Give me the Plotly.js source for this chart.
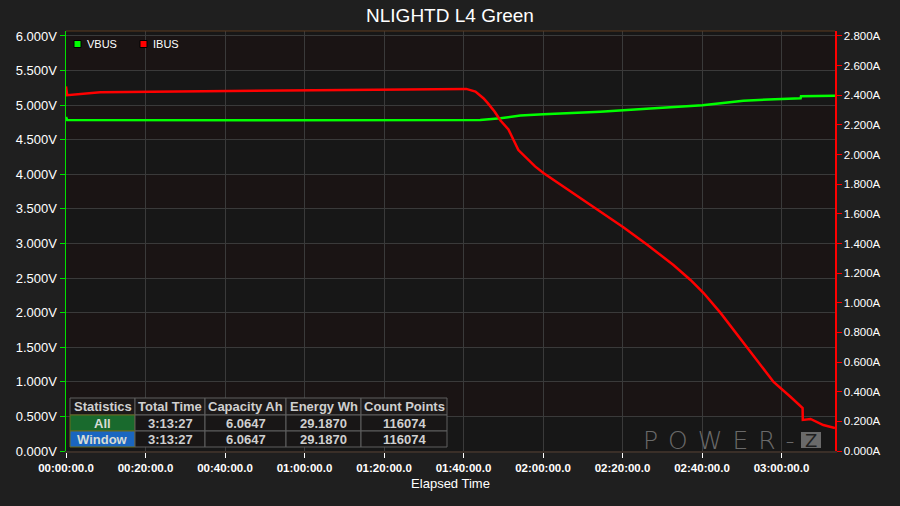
<!DOCTYPE html>
<html>
<head>
<meta charset="utf-8">
<script src="https://cdn.plot.ly/plotly-3.0.1.min.js"></script>
<style>
  html, body { margin: 0; padding: 0; background: #1f1f1f; }
  #chart { width: 900px; height: 506px; }
</style>
</head>
<body>
<div id="chart"></div>
<script>
// ---------------- data ----------------
const chartTitle = 'NLIGHTD L4 Green';
const xTitle = 'Elapsed Time';
const seriesNames = ['VBUS', 'IBUS'];

// elapsed minutes / volts
const vbusT = [0, 0.3, 50, 100, 104.2, 109.3, 114.3, 120.1, 134.4, 147, 160.1, 170.4, 180.3, 184.8, 184.9, 193.45];
const vbusV = [4.83, 4.785, 4.782, 4.78, 4.785, 4.81, 4.85, 4.87, 4.905, 4.95, 5.0, 5.065, 5.093, 5.10, 5.13, 5.137];

// elapsed minutes / amps
const ibusT = [0, 0.3, 8.6, 59, 100.7, 103, 105, 106, 107.8, 109.3, 111.3, 113.8, 116.1, 118, 120.1, 126.1, 133.7, 140.2, 146.3, 152.8, 157.1, 160.4, 164.7, 168.0, 171.4, 174.3, 178.0, 182.3, 185.3, 185.35, 187.3, 190.5, 193.45];
const ibusA = [2.46, 2.40, 2.42, 2.431, 2.443, 2.425, 2.38, 2.35, 2.29, 2.23, 2.17, 2.03, 1.97, 1.92, 1.876, 1.765, 1.626, 1.51, 1.39, 1.255, 1.154, 1.066, 0.93, 0.816, 0.70, 0.60, 0.466, 0.364, 0.29, 0.21, 0.216, 0.175, 0.155];

const xTickVals = [0, 20, 40, 60, 80, 100, 120, 140, 160, 180];
const xTickText = ['00:00:00.0', '00:20:00.0', '00:40:00.0', '01:00:00.0', '01:20:00.0', '01:40:00.0', '02:00:00.0', '02:20:00.0', '02:40:00.0', '03:00:00.0'];
const totalMinutes = 193.45;

const statsHeader = ['Statistics', 'Total Time', 'Capacity Ah', 'Energy Wh', 'Count Points'];
const statsRows = ['All', 'Window'];
const statsTotalTime = ['3:13:27', '3:13:27'];
const statsCapacity = ['6.0647', '6.0647'];
const statsEnergy = ['29.1870', '29.1870'];
const statsCount = ['116074', '116074'];

const watermark = 'POWER-';
const watermarkBox = 'Z';

// ---------------- layout helpers ----------------
const L = 66, R = 835, T = 31, B = 451;
const px = x => (x - L) / (R - L);
const py = y => (B - y) / (B - T);

const vMax = 6.072;
const aMax = vMax * 2.8 / 6;

const font = 'Arial, "Liberation Sans", sans-serif';

const shapes = [];
const annotations = [];

// alternating background bands
for (let v = 0.5; v < 6; v += 1.0) {
  shapes.push({type: 'rect', xref: 'paper', yref: 'y', x0: 0, x1: 1, y0: v, y1: v + 0.5,
    fillcolor: '#1a1414', line: {width: 0}, layer: 'below'});
}
shapes.push({type: 'line', xref: 'paper', yref: 'paper', x0: 0, x1: 1, y0: 1, y1: 1, line: {color: '#5c3a1e', width: 1}});

// legend (squares + labels)
const legendColors = ['#00ff00', '#ff0000'];
const legendX = [74, 140];
seriesNames.forEach((n, i) => {
  shapes.push({type: 'rect', xref: 'paper', yref: 'paper', x0: px(legendX[i]), x1: px(legendX[i] + 7), y0: py(47.5), y1: py(40.5),
    fillcolor: legendColors[i], line: {color: '#000000', width: 1}});
  annotations.push({text: n, xref: 'paper', yref: 'paper', x: px(legendX[i] + 11), y: py(44), xanchor: 'left', yanchor: 'middle',
    showarrow: false, font: {family: font, size: 11, color: '#ffffff'}});
});

// statistics table (drawn from the arrays above)
const colEdges = [70, 135, 205, 286, 361, 447];
const rowEdges = [398, 415, 431, 447];
const tableCols = [statsRows, statsTotalTime, statsCapacity, statsEnergy, statsCount];
for (let r = 0; r < 3; r++) {
  for (let c = 0; c < 5; c++) {
    let fill = '#181616', lineColor = '#5e5e5e';
    if (r === 0) fill = '#1c1919';
    if (r > 0 && c === 0) { fill = r === 1 ? '#196a2d' : '#1a66c0'; lineColor = '#6b6a1a'; }
    shapes.push({type: 'rect', xref: 'paper', yref: 'paper',
      x0: px(colEdges[c]), x1: px(colEdges[c + 1]), y0: py(rowEdges[r + 1]), y1: py(rowEdges[r]),
      fillcolor: fill, line: {color: lineColor, width: 1}});
    const txt = r === 0 ? statsHeader[c] : tableCols[c][r - 1];
    annotations.push({text: txt, xref: 'paper', yref: 'paper',
      x: px((colEdges[c] + colEdges[c + 1]) / 2), y: py((rowEdges[r] + rowEdges[r + 1]) / 2),
      xanchor: 'center', yanchor: 'middle', showarrow: false,
      font: {family: font, size: 13, color: (r > 0 && c === 0) ? '#d6dcd6' : '#cfcfcf', weight: 'bold'}});
  }
}

// watermark
shapes.push({type: 'rect', xref: 'paper', yref: 'paper', x0: px(801), x1: px(821), y0: py(448), y1: py(432),
  fillcolor: '#6a6a6a', line: {width: 0}});
annotations.push({text: watermark.split('').join('\u2009\u2009'), xref: 'paper', yref: 'paper', x: px(797), y: py(440),
  xanchor: 'right', yanchor: 'middle', showarrow: false,
  font: {family: '"DejaVu Sans", sans-serif', size: 25, color: '#6a6a6a', weight: 200}});
annotations.push({text: watermarkBox, xref: 'paper', yref: 'paper', x: px(811), y: py(440), xanchor: 'center', yanchor: 'middle',
  showarrow: false, font: {family: '"DejaVu Sans", sans-serif', size: 18, color: '#1f1f1f'}});

const traces = [
  {x: vbusT, y: vbusV, name: seriesNames[0], type: 'scatter', mode: 'lines',
   line: {color: '#00ff00', width: 2.5}, yaxis: 'y', showlegend: false},
  {x: ibusT, y: ibusA, name: seriesNames[1], type: 'scatter', mode: 'lines',
   line: {color: '#ff0000', width: 2.5}, yaxis: 'y2', showlegend: false}
];

const layout = {
  width: 900, height: 506,
  paper_bgcolor: '#1f1f1f',
  plot_bgcolor: '#171717',
  margin: {l: L, r: 900 - R, t: T, b: 506 - B},
  font: {family: font, color: '#ffffff'},
  title: {text: chartTitle, font: {family: font, size: 19, color: '#ffffff'},
    x: 0.5, xanchor: 'center', xref: 'container', yref: 'container', y: 1 - 15 / 506, yanchor: 'middle'},
  showlegend: false,
  xaxis: {
    range: [0, totalMinutes], tickvals: xTickVals, ticktext: xTickText,
    tickfont: {family: font, size: 11.5, color: '#ffffff', weight: 'bold'},
    ticks: 'outside', ticklen: 5, tickcolor: '#ffffff', tickwidth: 1,
    showgrid: true, gridcolor: '#3a3a3a', gridwidth: 1,
    showline: true, linecolor: '#3a2f28', linewidth: 2, zeroline: false,
    title: {text: xTitle, font: {family: font, size: 13, color: '#ffffff'}, standoff: 6}
  },
  yaxis: {
    range: [0, vMax], tick0: 0, dtick: 0.5, tickformat: '.3f', ticksuffix: 'V',
    tickfont: {family: font, size: 13, color: '#ffffff'},
    ticks: 'outside', ticklen: 5, tickcolor: '#00e000', tickwidth: 1,
    showgrid: true, gridcolor: '#3a3a3a', gridwidth: 1,
    showline: true, linecolor: '#00e000', linewidth: 1.5, zeroline: false
  },
  yaxis2: {
    overlaying: 'y', side: 'right',
    range: [0, aMax], tick0: 0, dtick: 0.2, tickformat: '.3f', ticksuffix: 'A',
    tickfont: {family: font, size: 11.5, color: '#ffffff'},
    ticks: 'outside', ticklen: 5, tickcolor: '#ff0000', tickwidth: 1,
    showgrid: false, showline: true, linecolor: '#ff0000', linewidth: 1.5, zeroline: false
  },
  shapes: shapes,
  annotations: annotations
};

Plotly.newPlot('chart', traces, layout, {staticPlot: true, displayModeBar: false});
</script>
</body>
</html>
